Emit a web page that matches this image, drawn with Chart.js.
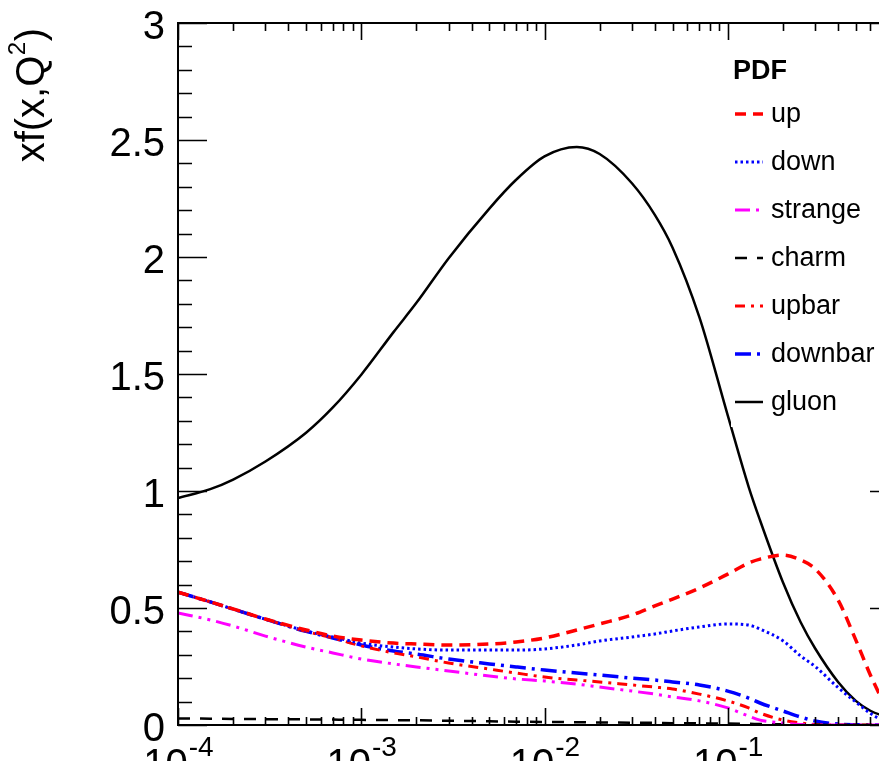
<!DOCTYPE html>
<html>
<head>
<meta charset="utf-8">
<title>Parton distribution functions</title>
<script src="https://cdn.jsdelivr.net/npm/chart.js@4/dist/chart.umd.min.js"></script>
<style>
  html, body { margin: 0; padding: 0; overflow: hidden; background: #ffffff; }
  canvas { display: block; }
</style>
</head>
<body>
<canvas id="pdfChart" width="960" height="800"></canvas>
<script>
// Momentum fraction x (log axis) and x*f(x,Q^2) for each parton flavour
const xValues = [1e-4, 1.5e-4, 2e-4, 3e-4, 5e-4, 7e-4, 1e-3, 1.5e-3, 2e-3, 3e-3, 5e-3, 7e-3,
                 0.01, 0.015, 0.02, 0.03, 0.04, 0.05, 0.07, 0.1, 0.13, 0.15, 0.2, 0.25,
                 0.3, 0.4, 0.5, 0.6, 0.7, 0.8];

const upValues      = [0.568, 0.526, 0.496, 0.453, 0.406, 0.380, 0.363, 0.350, 0.346, 0.342, 0.346, 0.355,
                       0.372, 0.406, 0.432, 0.470, 0.509, 0.538, 0.585, 0.645, 0.692, 0.709, 0.726, 0.705,
                       0.667, 0.534, 0.363, 0.214, 0.107, 0.043];
const downValues    = [0.568, 0.526, 0.495, 0.452, 0.402, 0.376, 0.350, 0.333, 0.325, 0.320, 0.320, 0.320,
                       0.325, 0.342, 0.359, 0.376, 0.389, 0.402, 0.419, 0.432, 0.427, 0.410, 0.360, 0.295,
                       0.250, 0.160, 0.098, 0.050, 0.020, 0.008];
const strangeValues = [0.479, 0.449, 0.423, 0.380, 0.333, 0.308, 0.282, 0.261, 0.248, 0.231, 0.209, 0.197,
                       0.188, 0.175, 0.162, 0.145, 0.132, 0.120, 0.103, 0.073, 0.038, 0.021, 0.009, 0.002,
                       0.0, 0.0, 0.0, 0.0, 0.0, 0.0];
const charmValues   = [0.028, 0.027, 0.026, 0.025, 0.024, 0.023, 0.022, 0.021, 0.020, 0.018, 0.016, 0.014,
                       0.013, 0.012, 0.011, 0.010, 0.009, 0.008, 0.007, 0.006, 0.005, 0.004, 0.003, 0.002,
                       0.001, 0.0, 0.0, 0.0, 0.0, 0.0];
const upbarValues   = [0.568, 0.526, 0.495, 0.452, 0.400, 0.372, 0.338, 0.308, 0.291, 0.265, 0.239, 0.222,
                       0.205, 0.192, 0.184, 0.171, 0.162, 0.154, 0.132, 0.103, 0.073, 0.051, 0.021, 0.009,
                       0.002, 0.0, 0.0, 0.0, 0.0, 0.0];
const downbarValues = [0.568, 0.526, 0.495, 0.452, 0.400, 0.372, 0.342, 0.316, 0.303, 0.282, 0.261, 0.248,
                       0.235, 0.222, 0.214, 0.200, 0.192, 0.184, 0.171, 0.145, 0.115, 0.094, 0.060, 0.034,
                       0.017, 0.004, 0.001, 0.0, 0.0, 0.0];
const gluonValues   = [0.970, 1.008, 1.049, 1.126, 1.249, 1.357, 1.497, 1.679, 1.804, 1.995, 2.207, 2.330,
                       2.430, 2.470, 2.440, 2.315, 2.180, 2.040, 1.743, 1.323, 1.018, 0.875, 0.610, 0.439,
                       0.327, 0.184, 0.103, 0.061, 0.040, 0.026];

const seriesNames = ['up', 'down', 'strange', 'charm', 'upbar', 'downbar', 'gluon'];
const yTickLabels = ['0', '0.5', '1', '1.5', '2', '2.5', '3'];
const xDecadeExponents = ['-4', '-3', '-2', '-1'];
const legendTitle = 'PDF';
const yAxisTitle = { base: 'xf(x,Q', sup: '2', tail: ')' };

const FONT = "'Liberation Sans', Arial, Helvetica, sans-serif";

function toPoints(values) {
  return xValues.map((x, i) => ({ x: x, y: values[i] }));
}

const lineStyles = {
  up:      { color: '#ff0000', width: 3.5, dash: [11, 7] },
  down:    { color: '#0000ff', width: 3,   dash: [2.5, 3] },
  strange: { color: '#ff00ff', width: 3,   dash: [15, 6, 3, 6, 3, 6] },
  charm:   { color: '#000000', width: 2.5, dash: [12, 10] },
  upbar:   { color: '#ff0000', width: 3,   dash: [10, 6, 3, 6] },
  downbar: { color: '#0000ff', width: 3.5, dash: [16, 6, 3, 6] },
  gluon:   { color: '#000000', width: 2.5, dash: [] }
};

const seriesValues = [upValues, downValues, strangeValues, charmValues, upbarValues, downbarValues, gluonValues];

const datasets = seriesNames.map((name, i) => ({
  label: name,
  data: toPoints(seriesValues[i]),
  borderColor: lineStyles[name].color,
  borderWidth: lineStyles[name].width,
  borderDash: lineStyles[name].dash,
  borderCapStyle: 'butt',
  cubicInterpolationMode: 'monotone',
  fill: false,
  pointRadius: 0
}));

// Frame with inward ticks on all four sides, tick labels, axis title and legend
const frameAndLabels = {
  id: 'frameAndLabels',
  afterDatasetsDraw(chart) {
    const ctx = chart.ctx;
    const area = chart.chartArea;
    const xs = chart.scales.x;
    const ys = chart.scales.y;
    ctx.save();
    ctx.strokeStyle = '#000';
    ctx.lineCap = 'butt';
    ctx.setLineDash([]);

    // frame
    ctx.lineWidth = 2;
    ctx.strokeRect(area.left, area.top, area.right - area.left, area.bottom - area.top);

    // y ticks (every 0.1, major every 0.5)
    ctx.lineWidth = 1.6;
    for (let k = 0; k <= 30; k++) {
      const v = k / 10;
      const py = Math.round(ys.getPixelForValue(v)) + 0.5;
      const len = (k % 5 === 0) ? 29 : 14;
      ctx.beginPath();
      ctx.moveTo(area.left, py); ctx.lineTo(area.left + len, py);
      ctx.moveTo(area.right, py); ctx.lineTo(area.right - len, py);
      ctx.stroke();
    }

    // x ticks (log decades with 2..9 subdivisions)
    for (let e = -4; e <= 0; e++) {
      for (let m = 1; m <= 9; m++) {
        const v = m * Math.pow(10, e);
        if (v < xs.min - 1e-12 || v > xs.max) continue;
        const px = Math.round(xs.getPixelForValue(v)) + 0.5;
        const len = (m === 1) ? 17 : 8;
        ctx.beginPath();
        ctx.moveTo(px, area.bottom); ctx.lineTo(px, area.bottom - len);
        ctx.moveTo(px, area.top); ctx.lineTo(px, area.top + len);
        ctx.stroke();
      }
    }

    ctx.fillStyle = '#000';

    // y tick labels
    ctx.font = '40px ' + FONT;
    ctx.textAlign = 'right';
    ctx.textBaseline = 'alphabetic';
    yTickLabels.forEach(lbl => {
      const py = ys.getPixelForValue(parseFloat(lbl));
      ctx.fillText(lbl, 165, py + 16);
    });

    // x tick labels: 10 with a superscript exponent
    xDecadeExponents.forEach(exp => {
      const px = xs.getPixelForValue(Math.pow(10, parseFloat(exp)));
      ctx.font = '40px ' + FONT;
      const wBase = ctx.measureText('10').width;
      ctx.font = '28px ' + FONT;
      const wSup = ctx.measureText(exp).width;
      const start = px - (wBase + wSup) / 2;
      ctx.textAlign = 'left';
      ctx.font = '40px ' + FONT;
      ctx.fillText('10', start, area.bottom + 52);
      ctx.font = '28px ' + FONT;
      ctx.fillText(exp, start + wBase + 1, area.bottom + 31);
    });

    // y axis title, rotated, aligned to the top of the axis
    ctx.save();
    ctx.translate(44, 28);
    ctx.rotate(-Math.PI / 2);
    ctx.font = '40px ' + FONT;
    const wB = ctx.measureText(yAxisTitle.base).width;
    const wT = ctx.measureText(yAxisTitle.tail).width;
    ctx.font = '24px ' + FONT;
    const wS = ctx.measureText(yAxisTitle.sup).width;
    let tx = -(wB + wS + wT + 1);
    ctx.textAlign = 'left';
    ctx.font = '40px ' + FONT;
    ctx.fillText(yAxisTitle.base, tx, 0);
    tx += wB;
    ctx.font = '24px ' + FONT;
    ctx.fillText(yAxisTitle.sup, tx + 0.5, -19);
    tx += wS + 1;
    ctx.font = '40px ' + FONT;
    ctx.fillText(yAxisTitle.tail, tx, 0);
    ctx.restore();

    // legend box (white fill, no border) with title and one row per dataset
    ctx.fillStyle = '#fff';
    ctx.fillRect(731, 44, area.right - 731, 383);
    ctx.fillStyle = '#000';
    ctx.textAlign = 'left';
    ctx.font = 'bold 27px ' + FONT;
    ctx.fillText(legendTitle, 733, 79);
    ctx.font = '27px ' + FONT;
    chart.data.datasets.forEach((ds, i) => {
      const rowY = 114 + i * 48;
      ctx.save();
      ctx.strokeStyle = ds.borderColor;
      ctx.lineWidth = ds.borderWidth;
      ctx.setLineDash(ds.borderDash);
      ctx.beginPath();
      ctx.moveTo(735, rowY);
      ctx.lineTo(763, rowY);
      ctx.stroke();
      ctx.restore();
      ctx.fillText(ds.label, 771, rowY + 8);
    });

    ctx.restore();
  }
};

new Chart(document.getElementById('pdfChart'), {
  type: 'line',
  data: { datasets: datasets },
  options: {
    responsive: false,
    animation: false,
    devicePixelRatio: 1,
    layout: { padding: { left: 178, top: 23, right: 61, bottom: 75 } },
    scales: {
      x: { type: 'logarithmic', min: 1e-4, max: 0.86, display: false },
      y: { type: 'linear', min: 0, max: 3, display: false }
    },
    plugins: {
      legend: { display: false },
      tooltip: { enabled: false }
    },
    elements: { point: { radius: 0 } }
  },
  plugins: [frameAndLabels]
});
</script>
</body>
</html>
